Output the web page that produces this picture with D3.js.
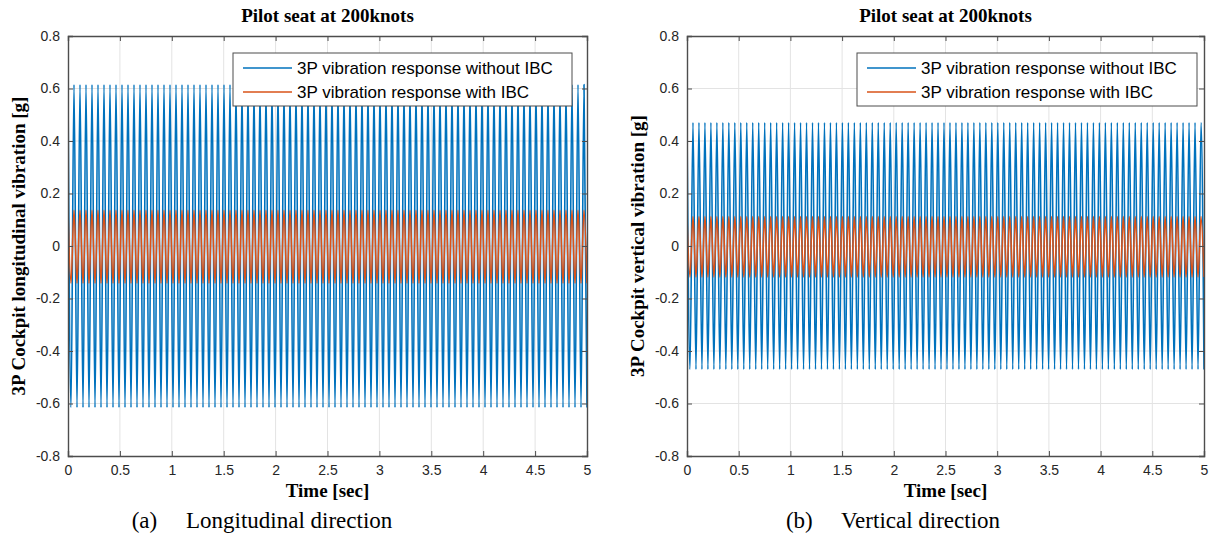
<!DOCTYPE html>
<html>
<head>
<meta charset="utf-8">
<script src="https://cdn.jsdelivr.net/npm/d3@7"></script>
<style>
  body { margin: 0; background: #ffffff; }
  svg { display: block; }
</style>
</head>
<body>
<svg id="fig" width="1216" height="538"></svg>
<script>
// ---- Data ---------------------------------------------------------------
const timeDomain = [0, 5];
const xTickValues = [0, 0.5, 1, 1.5, 2, 2.5, 3, 3.5, 4, 4.5, 5];
const yTickValues = [-0.8, -0.6, -0.4, -0.2, 0, 0.2, 0.4, 0.6, 0.8];
const seriesNames = ["3P vibration response without IBC", "3P vibration response with IBC"];
const panelTitles = ["Pilot seat at 200knots", "Pilot seat at 200knots"];
const yAxisLabels = ["3P Cockpit longitudinal vibration [g]", "3P Cockpit vertical vibration [g]"];
const captions = ["(a)\u2003 Longitudinal direction", "(b)\u2003 Vertical direction"];

// Successive peak / trough values of the 3P response over 0-5 s (87 cycles)
const longitudinalWithoutIBC = [
  0.615, -0.615, 0.615, -0.615, 0.615, -0.615, 0.615, -0.615, 0.615, -0.615, 0.615, -0.615, 0.615, -0.615, 0.615, -0.615, 0.615, -0.615, 0.615, -0.615,
  0.615, -0.615, 0.615, -0.615, 0.615, -0.615, 0.615, -0.615, 0.615, -0.615, 0.615, -0.615, 0.615, -0.615, 0.615, -0.615, 0.615, -0.615, 0.615, -0.615,
  0.615, -0.615, 0.615, -0.615, 0.615, -0.615, 0.615, -0.615, 0.615, -0.615, 0.615, -0.615, 0.615, -0.615, 0.615, -0.615, 0.615, -0.615, 0.615, -0.615,
  0.615, -0.615, 0.615, -0.615, 0.615, -0.615, 0.615, -0.615, 0.615, -0.615, 0.615, -0.615, 0.615, -0.615, 0.615, -0.615, 0.615, -0.615, 0.615, -0.615,
  0.615, -0.615, 0.615, -0.615, 0.615, -0.615, 0.615, -0.615, 0.615, -0.615, 0.615, -0.615, 0.615, -0.615, 0.615, -0.615, 0.615, -0.615, 0.615, -0.615,
  0.615, -0.615, 0.615, -0.615, 0.615, -0.615, 0.615, -0.615, 0.615, -0.615, 0.615, -0.615, 0.615, -0.615, 0.615, -0.615, 0.615, -0.615, 0.615, -0.615,
  0.615, -0.615, 0.615, -0.615, 0.615, -0.615, 0.615, -0.615, 0.615, -0.615, 0.615, -0.615, 0.615, -0.615, 0.615, -0.615, 0.615, -0.615, 0.615, -0.615,
  0.615, -0.615, 0.615, -0.615, 0.615, -0.615, 0.615, -0.615, 0.615, -0.615, 0.615, -0.615, 0.615, -0.615, 0.615, -0.615, 0.615, -0.615, 0.615, -0.615,
  0.615, -0.615, 0.615, -0.615, 0.615, -0.615, 0.615, -0.615, 0.615, -0.615, 0.615, -0.615, 0.615, -0.615
];
const longitudinalWithIBC = [
  0.136, -0.142, 0.136, -0.142, 0.136, -0.142, 0.136, -0.142, 0.136, -0.142, 0.136, -0.142, 0.136, -0.142, 0.136, -0.142, 0.136, -0.142, 0.136, -0.142,
  0.136, -0.142, 0.136, -0.142, 0.136, -0.142, 0.136, -0.142, 0.136, -0.142, 0.136, -0.142, 0.136, -0.142, 0.136, -0.142, 0.136, -0.142, 0.136, -0.142,
  0.136, -0.142, 0.136, -0.142, 0.136, -0.142, 0.136, -0.142, 0.136, -0.142, 0.136, -0.142, 0.136, -0.142, 0.136, -0.142, 0.136, -0.142, 0.136, -0.142,
  0.136, -0.142, 0.136, -0.142, 0.136, -0.142, 0.136, -0.142, 0.136, -0.142, 0.136, -0.142, 0.136, -0.142, 0.136, -0.142, 0.136, -0.142, 0.136, -0.142,
  0.136, -0.142, 0.136, -0.142, 0.136, -0.142, 0.136, -0.142, 0.136, -0.142, 0.136, -0.142, 0.136, -0.142, 0.136, -0.142, 0.136, -0.142, 0.136, -0.142,
  0.136, -0.142, 0.136, -0.142, 0.136, -0.142, 0.136, -0.142, 0.136, -0.142, 0.136, -0.142, 0.136, -0.142, 0.136, -0.142, 0.136, -0.142, 0.136, -0.142,
  0.136, -0.142, 0.136, -0.142, 0.136, -0.142, 0.136, -0.142, 0.136, -0.142, 0.136, -0.142, 0.136, -0.142, 0.136, -0.142, 0.136, -0.142, 0.136, -0.142,
  0.136, -0.142, 0.136, -0.142, 0.136, -0.142, 0.136, -0.142, 0.136, -0.142, 0.136, -0.142, 0.136, -0.142, 0.136, -0.142, 0.136, -0.142, 0.136, -0.142,
  0.136, -0.142, 0.136, -0.142, 0.136, -0.142, 0.136, -0.142, 0.136, -0.142, 0.136, -0.142, 0.136, -0.142
];
const verticalWithoutIBC = [
  0.47, -0.47, 0.47, -0.47, 0.47, -0.47, 0.47, -0.47, 0.47, -0.47, 0.47, -0.47, 0.47, -0.47, 0.47, -0.47, 0.47, -0.47, 0.47, -0.47,
  0.47, -0.47, 0.47, -0.47, 0.47, -0.47, 0.47, -0.47, 0.47, -0.47, 0.47, -0.47, 0.47, -0.47, 0.47, -0.47, 0.47, -0.47, 0.47, -0.47,
  0.47, -0.47, 0.47, -0.47, 0.47, -0.47, 0.47, -0.47, 0.47, -0.47, 0.47, -0.47, 0.47, -0.47, 0.47, -0.47, 0.47, -0.47, 0.47, -0.47,
  0.47, -0.47, 0.47, -0.47, 0.47, -0.47, 0.47, -0.47, 0.47, -0.47, 0.47, -0.47, 0.47, -0.47, 0.47, -0.47, 0.47, -0.47, 0.47, -0.47,
  0.47, -0.47, 0.47, -0.47, 0.47, -0.47, 0.47, -0.47, 0.47, -0.47, 0.47, -0.47, 0.47, -0.47, 0.47, -0.47, 0.47, -0.47, 0.47, -0.47,
  0.47, -0.47, 0.47, -0.47, 0.47, -0.47, 0.47, -0.47, 0.47, -0.47, 0.47, -0.47, 0.47, -0.47, 0.47, -0.47, 0.47, -0.47, 0.47, -0.47,
  0.47, -0.47, 0.47, -0.47, 0.47, -0.47, 0.47, -0.47, 0.47, -0.47, 0.47, -0.47, 0.47, -0.47, 0.47, -0.47, 0.47, -0.47, 0.47, -0.47,
  0.47, -0.47, 0.47, -0.47, 0.47, -0.47, 0.47, -0.47, 0.47, -0.47, 0.47, -0.47, 0.47, -0.47, 0.47, -0.47, 0.47, -0.47, 0.47, -0.47,
  0.47, -0.47, 0.47, -0.47, 0.47, -0.47, 0.47, -0.47, 0.47, -0.47, 0.47, -0.47, 0.47, -0.47
];
const verticalWithIBC = [
  0.112, -0.118, 0.112, -0.118, 0.112, -0.118, 0.112, -0.118, 0.112, -0.118, 0.112, -0.118, 0.112, -0.118, 0.112, -0.118, 0.112, -0.118, 0.112, -0.118,
  0.112, -0.118, 0.112, -0.118, 0.112, -0.118, 0.112, -0.118, 0.112, -0.118, 0.112, -0.118, 0.112, -0.118, 0.112, -0.118, 0.112, -0.118, 0.112, -0.118,
  0.112, -0.118, 0.112, -0.118, 0.112, -0.118, 0.112, -0.118, 0.112, -0.118, 0.112, -0.118, 0.112, -0.118, 0.112, -0.118, 0.112, -0.118, 0.112, -0.118,
  0.112, -0.118, 0.112, -0.118, 0.112, -0.118, 0.112, -0.118, 0.112, -0.118, 0.112, -0.118, 0.112, -0.118, 0.112, -0.118, 0.112, -0.118, 0.112, -0.118,
  0.112, -0.118, 0.112, -0.118, 0.112, -0.118, 0.112, -0.118, 0.112, -0.118, 0.112, -0.118, 0.112, -0.118, 0.112, -0.118, 0.112, -0.118, 0.112, -0.118,
  0.112, -0.118, 0.112, -0.118, 0.112, -0.118, 0.112, -0.118, 0.112, -0.118, 0.112, -0.118, 0.112, -0.118, 0.112, -0.118, 0.112, -0.118, 0.112, -0.118,
  0.112, -0.118, 0.112, -0.118, 0.112, -0.118, 0.112, -0.118, 0.112, -0.118, 0.112, -0.118, 0.112, -0.118, 0.112, -0.118, 0.112, -0.118, 0.112, -0.118,
  0.112, -0.118, 0.112, -0.118, 0.112, -0.118, 0.112, -0.118, 0.112, -0.118, 0.112, -0.118, 0.112, -0.118, 0.112, -0.118, 0.112, -0.118, 0.112, -0.118,
  0.112, -0.118, 0.112, -0.118, 0.112, -0.118, 0.112, -0.118, 0.112, -0.118, 0.112, -0.118, 0.112, -0.118
];

// ---- Styling ------------------------------------------------------------
const seriesColors = ["#0072BD", "#D95319"];
const axisColor = "#4d4d4d";
const gridColor = "#e3e3e3";
const tickFont = "'Liberation Sans', Arial, sans-serif";
const serifFont = "'Liberation Serif', 'Times New Roman', serif";

const panels = [
  { title: panelTitles[0], ylabel: yAxisLabels[0], caption: captions[0],
    series: [longitudinalWithoutIBC, longitudinalWithIBC],
    box: { x0: 68, x1: 587, y0: 36, y1: 456 }, ylabelX: 18, captionX: 262,
    legend: { x0: 233, x1: 572, y0: 53, y1: 106 } },
  { title: panelTitles[1], ylabel: yAxisLabels[1], caption: captions[1],
    series: [verticalWithoutIBC, verticalWithIBC],
    box: { x0: 687, x1: 1204, y0: 36, y1: 456 }, ylabelX: 637, captionX: 893,
    legend: { x0: 857, x1: 1197, y0: 53, y1: 106 } }
];

const svg = d3.select("#fig");
svg.append("rect").attr("width", 1216).attr("height", 538).attr("fill", "#ffffff");

panels.forEach((p, pi) => {
  const b = p.box;
  const x = d3.scaleLinear().domain(timeDomain).range([b.x0, b.x1]);
  const y = d3.scaleLinear().domain([-0.8, 0.8]).range([b.y1, b.y0]);
  const g = svg.append("g");

  // grid
  g.append("g").selectAll("line").data(xTickValues.slice(1, -1)).join("line")
    .attr("x1", d => x(d)).attr("x2", d => x(d)).attr("y1", b.y0).attr("y2", b.y1)
    .attr("stroke", gridColor).attr("stroke-width", 1);
  g.append("g").selectAll("line").data(yTickValues.slice(1, -1)).join("line")
    .attr("y1", d => y(d)).attr("y2", d => y(d)).attr("x1", b.x0).attr("x2", b.x1)
    .attr("stroke", gridColor).attr("stroke-width", 1);

  // data lines
  const clipId = "clip" + pi;
  svg.append("defs").append("clipPath").attr("id", clipId).append("rect")
    .attr("x", b.x0).attr("y", b.y0).attr("width", b.x1 - b.x0).attr("height", b.y1 - b.y0);
  const lines = g.append("g").attr("clip-path", `url(#${clipId})`);
  p.series.forEach((vals, si) => {
    const t = d3.scaleLinear().domain([0, vals.length - 1]).range(timeDomain);
    const line = d3.line()
      .x((d, i) => x(t(i)))
      .y(d => y(d))
      .curve(d3.curveMonotoneX);
    lines.append("path").datum(vals)
      .attr("d", line)
      .attr("fill", "none")
      .attr("stroke", seriesColors[si])
      .attr("stroke-width", 1.6)
      .attr("stroke-linejoin", "round");
  });

  // axes (ticks inward, box on all sides)
  const xAxisB = d3.axisBottom(x).tickValues(xTickValues).tickSize(-5).tickPadding(9)
    .tickFormat(d3.format("~g"));
  const xAxisT = d3.axisTop(x).tickValues(xTickValues).tickSize(-5).tickFormat("");
  const yAxisL = d3.axisLeft(y).tickValues(yTickValues).tickSize(-5).tickPadding(8)
    .tickFormat(d => d3.format("~g")(d).replace("\u2212", "-"));
  const yAxisR = d3.axisRight(y).tickValues(yTickValues).tickSize(-5).tickFormat("");

  const styleAxis = sel => {
    sel.selectAll("path").attr("stroke", axisColor).attr("stroke-width", 1.4);
    sel.selectAll("line").attr("stroke", axisColor).attr("stroke-width", 1);
    sel.selectAll("text").attr("fill", "#262626")
      .style("font-family", tickFont).style("font-size", "14px");
  };
  g.append("g").attr("transform", `translate(0,${b.y1})`).call(xAxisB).call(styleAxis);
  g.append("g").attr("transform", `translate(0,${b.y0})`).call(xAxisT).call(styleAxis);
  g.append("g").attr("transform", `translate(${b.x0},0)`).call(yAxisL).call(styleAxis);
  g.append("g").attr("transform", `translate(${b.x1},0)`).call(yAxisR).call(styleAxis);

  // titles and labels
  const cx = (b.x0 + b.x1) / 2;
  g.append("text").attr("x", cx).attr("y", 22).attr("text-anchor", "middle")
    .style("font-family", serifFont).style("font-weight", "bold").style("font-size", "19px")
    .attr("fill", "#000").text(p.title);
  g.append("text").attr("x", cx).attr("y", 497).attr("text-anchor", "middle")
    .style("font-family", serifFont).style("font-weight", "bold").style("font-size", "19px")
    .attr("fill", "#000").text("Time [sec]");
  g.append("text")
    .attr("transform", `translate(${p.ylabelX},${(b.y0 + b.y1) / 2}) rotate(-90)`)
    .attr("text-anchor", "middle").attr("dy", "0.35em")
    .style("font-family", serifFont).style("font-weight", "bold").style("font-size", "19px")
    .attr("fill", "#000").text(p.ylabel);
  g.append("text").attr("x", p.captionX).attr("y", 528).attr("text-anchor", "middle")
    .style("font-family", serifFont).style("font-size", "23px")
    .attr("fill", "#000").text(p.caption);

  // legend
  const L = p.legend;
  const lg = g.append("g");
  lg.append("rect").attr("x", L.x0).attr("y", L.y0)
    .attr("width", L.x1 - L.x0).attr("height", L.y1 - L.y0)
    .attr("fill", "#ffffff").attr("stroke", axisColor).attr("stroke-width", 1);
  seriesNames.forEach((name, si) => {
    const ry = L.y0 + 15 + si * 24;
    lg.append("line").attr("x1", L.x0 + 10).attr("x2", L.x0 + 59)
      .attr("y1", ry).attr("y2", ry)
      .attr("stroke", seriesColors[si]).attr("stroke-width", 1.5);
    lg.append("text").attr("x", L.x0 + 64).attr("y", ry).attr("dy", "0.35em")
      .style("font-family", tickFont).style("font-size", "17px")
      .attr("fill", "#000").text(name);
  });
});
</script>
</body>
</html>
